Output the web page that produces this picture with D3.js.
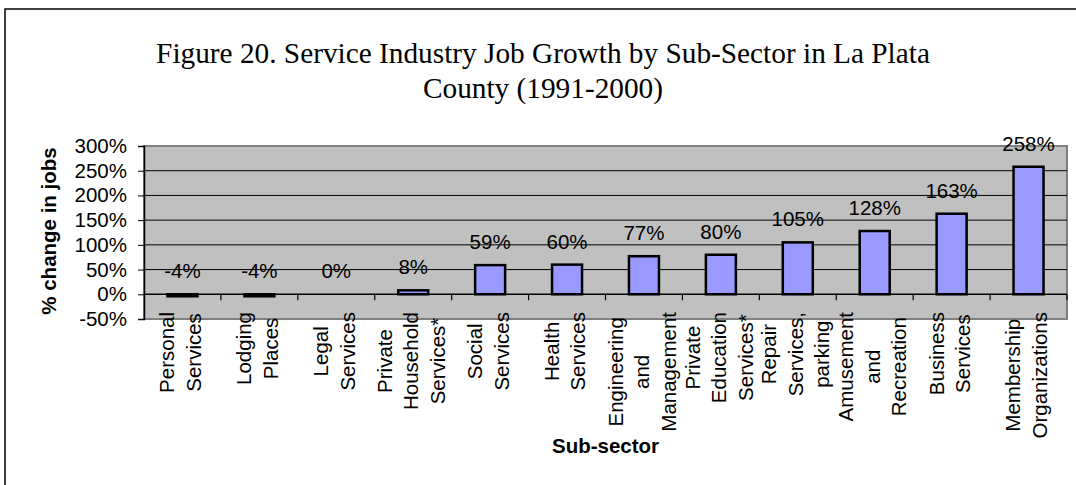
<!DOCTYPE html>
<html>
<head>
<meta charset="utf-8">
<script src="https://cdn.jsdelivr.net/npm/d3@7"></script>
<style>
  body { margin: 0; background: #fff; }
  svg text { fill: #000; }
</style>
</head>
<body>
<svg id="chart" width="1076" height="485"></svg>
<script>
// data
const categories = [
  ["Personal", "Services"],
  ["Lodging", "Places"],
  ["Legal", "Services"],
  ["Private", "Household", "Services*"],
  ["Social", "Services"],
  ["Health", "Services"],
  ["Engineering", "and", "Management"],
  ["Private", "Education", "Services*"],
  ["Repair", "Services,", "parking"],
  ["Amusement", "and", "Recreation"],
  ["Business", "Services"],
  ["Membership", "Organizations"]
];
const growth = [-4, -4, 0, 8, 59, 60, 77, 80, 105, 128, 163, 258];
const yTicks = [-50, 0, 50, 100, 150, 200, 250, 300];
const titleLines = ["Figure 20. Service Industry Job Growth by Sub-Sector in La Plata", "County (1991-2000)"];

const svg = d3.select("#chart");
const sans = "'Liberation Sans', Arial, sans-serif";
const fs = 20.5;

// outer chart frame (runs off the right and bottom of the picture)
svg.append("rect")
  .attr("x", 5).attr("y", 9)
  .attr("width", 1100).attr("height", 500)
  .attr("fill", "#fff").attr("stroke", "#000").attr("stroke-width", 1.5);

// title, two centred lines
svg.append("g")
  .selectAll("text")
  .data(titleLines)
  .enter().append("text")
  .attr("x", 543)
  .attr("y", (d, i) => 63 + i * 35)
  .attr("text-anchor", "middle")
  .style("font-family", "'Liberation Serif', 'Times New Roman', serif")
  .style("font-size", "29.3px")
  .text(d => d);

const pLeft = 144, pRight = 1067, pTop = 146, pBottom = 319;

const x = d3.scaleBand()
  .domain(d3.range(categories.length))
  .range([pLeft, pRight])
  .padding(0);

const y = d3.scaleLinear()
  .domain([-50, 300])
  .range([pBottom, pTop]);

// plot area
svg.append("rect")
  .attr("x", pLeft).attr("y", pTop)
  .attr("width", pRight - pLeft).attr("height", pBottom - pTop)
  .attr("fill", "#c0c0c0").attr("stroke", "#808080").attr("stroke-width", 2);

// gridlines
svg.append("g")
  .selectAll("line")
  .data(yTicks.filter(d => d > -50 && d < 300 && d !== 0))
  .enter().append("line")
  .attr("x1", pLeft).attr("x2", pRight)
  .attr("y1", d => y(d)).attr("y2", d => y(d))
  .attr("stroke", "#000").attr("stroke-width", 1);

// y axis
const yAxis = svg.append("g")
  .attr("transform", "translate(" + pLeft + ",0)")
  .call(d3.axisLeft(y).tickValues(yTicks).tickSize(6).tickPadding(11).tickFormat(d => d + "%"));
yAxis.select(".domain").attr("stroke", "#000").attr("stroke-width", 1.5);
yAxis.selectAll(".tick line").attr("stroke", "#000");
yAxis.selectAll("text")
  .style("font-family", sans).style("font-size", fs + "px").attr("fill", "#000");

// bars
const barW = x.bandwidth() * 0.39;
svg.append("g")
  .selectAll("rect")
  .data(growth)
  .enter().append("rect")
  .attr("x", (d, i) => x(i) + (x.bandwidth() - barW) / 2)
  .attr("y", d => y(Math.max(d, 0)))
  .attr("width", barW)
  .attr("height", d => Math.abs(y(d) - y(0)))
  .attr("fill", "#9999ff")
  .attr("stroke", "#000").attr("stroke-width", 2.5);

// x axis at zero with ticks between categories
const xAxis = svg.append("g");
xAxis.append("line")
  .attr("x1", pLeft).attr("x2", pRight)
  .attr("y1", y(0)).attr("y2", y(0))
  .attr("stroke", "#000").attr("stroke-width", 1.5);
xAxis.selectAll(".xt")
  .data(d3.range(1, categories.length + 1))
  .enter().append("line")
  .attr("x1", i => x(i - 1) + x.bandwidth()).attr("x2", i => x(i - 1) + x.bandwidth())
  .attr("y1", y(0)).attr("y2", y(0) + 6)
  .attr("stroke", "#000").attr("stroke-width", 1.2);

// value labels
svg.append("g")
  .selectAll("text")
  .data(growth)
  .enter().append("text")
  .attr("x", (d, i) => x(i) + x.bandwidth() / 2)
  .attr("y", d => y(Math.max(d, 0)) - 16)
  .attr("text-anchor", "middle")
  .style("font-family", sans).style("font-size", fs + "px")
  .text(d => d + "%");

// category labels, rotated, lines centred in a box that starts at y = 312
const lineGap = 26.5;
categories.forEach((lines, i) => {
  const cx = x(i) + x.bandwidth() / 2 - 2;
  const g = svg.append("g");
  const texts = lines.map((s, j) => g.append("text")
    .attr("text-anchor", "middle")
    .style("font-family", sans).style("font-size", fs + "px")
    .text(s));
  const maxLen = d3.max(texts, t => t.node().getComputedTextLength());
  const cy = 312 + maxLen / 2;
  texts.forEach((t, j) => {
    const lx = cx + (j - (lines.length - 1) / 2) * lineGap + fs * 0.35;
    t.attr("transform", "translate(" + lx + "," + cy + ") rotate(-90)");
  });
});

// axis titles
svg.append("text")
  .attr("transform", "translate(56," + ((pTop + pBottom) / 2 - 1.5) + ") rotate(-90)")
  .attr("text-anchor", "middle")
  .style("font-family", sans).style("font-size", fs + "px").style("font-weight", "bold")
  .text("% change in jobs");

svg.append("text")
  .attr("x", (pLeft + pRight) / 2).attr("y", 453)
  .attr("text-anchor", "middle")
  .style("font-family", sans).style("font-size", fs + "px").style("font-weight", "bold")
  .text("Sub-sector");
</script>
</body>
</html>
